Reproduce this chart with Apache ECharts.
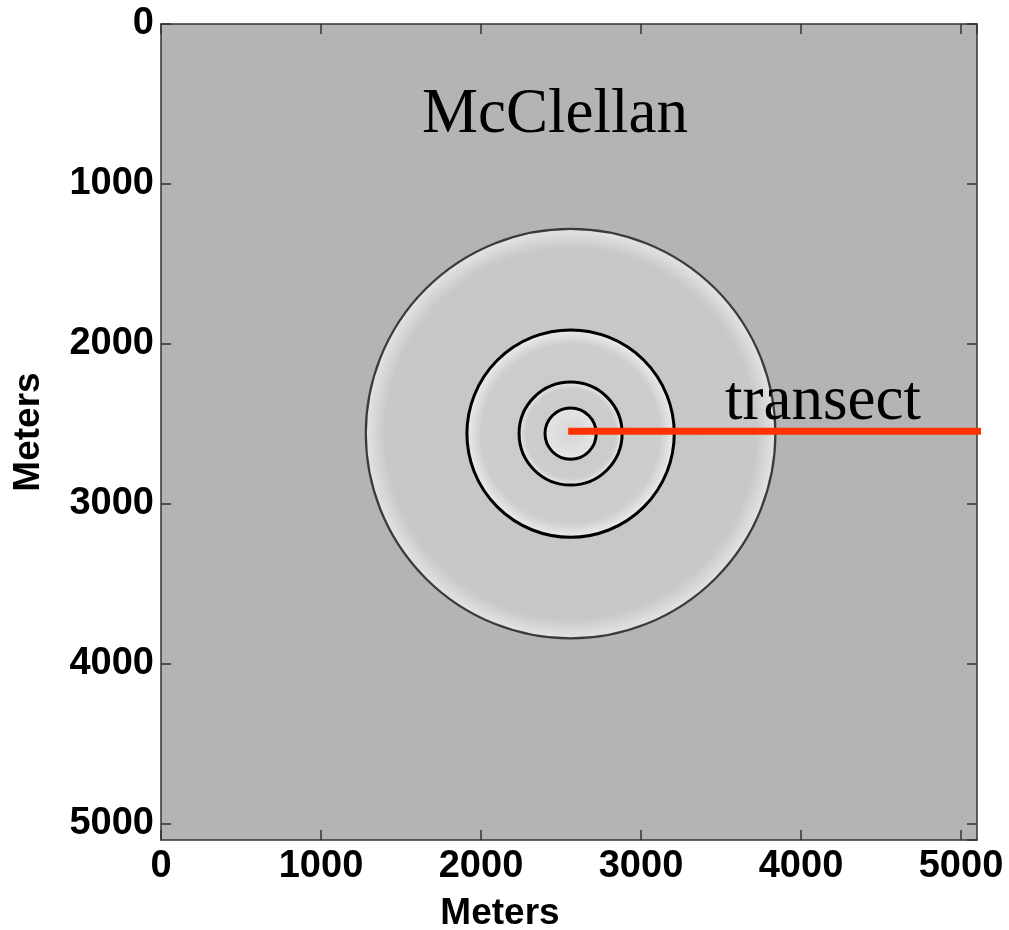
<!DOCTYPE html>
<html>
<head>
<meta charset="utf-8">
<script src="https://cdn.jsdelivr.net/npm/echarts@6/dist/echarts.min.js"></script>
<style>
html,body{margin:0;padding:0;background:#fff;}
#chart{width:1009px;height:930px;}
</style>
</head>
<body>
<div id="chart"></div>
<script>
// ---- data ----
var axisTicks = [0, 1000, 2000, 3000, 4000, 5000];
var axisMax = 5100;
var ringCenter = [2560, 2560];
var ringRadii = [1280, 648, 322, 160];
var transectX = [2545, 5175];
var transectY = [2545, 2545];
var titleText = 'McClellan';
var transectLabel = 'transect';
var axisName = 'Meters';

var chart = echarts.init(document.getElementById('chart'), null, {renderer: 'canvas'});

var ringData = ringRadii.map(function (r, i) { return [ringCenter[0], ringCenter[1], r, i]; });
var transectData = transectX.map(function (x, i) { return [x, transectY[i]]; });

var labelFont = {fontFamily: 'Liberation Sans, Arial, sans-serif', fontWeight: 'bold', fontSize: 38, color: '#000'};
function fmt(v) { return axisTicks.indexOf(v) >= 0 ? String(v) : ''; }

function mkX(pos, show) {
  return {
    type: 'value', position: pos, min: 0, max: axisMax, interval: 1000,
    axisLine: {show: true, onZero: false, lineStyle: {color: '#333', width: 1.5}},
    axisTick: {show: true, inside: true, length: 10, lineStyle: {color: '#333', width: 1.5}},
    axisLabel: show ? Object.assign({show: true, margin: 8, showMaxLabel: false, formatter: fmt}, labelFont) : {show: false},
    splitLine: {show: false},
    name: show ? axisName : '',
    nameLocation: 'middle', nameGap: 55,
    nameTextStyle: {fontFamily: 'Liberation Sans, Arial, sans-serif', fontWeight: 'bold', fontSize: 37, color: '#000', padding: [0, 138, 0, 0]}
  };
}
function mkY(pos, show) {
  return {
    type: 'value', position: pos, inverse: true, min: 0, max: axisMax, interval: 1000,
    axisLine: {show: true, onZero: false, lineStyle: {color: '#333', width: 1.5}},
    axisTick: {show: true, inside: true, length: 10, lineStyle: {color: '#333', width: 1.5}},
    axisLabel: show ? Object.assign({show: true, margin: 7, showMaxLabel: false, formatter: fmt}, labelFont) : {show: false},
    splitLine: {show: false},
    name: show ? axisName : '',
    nameLocation: 'middle', nameGap: 114, nameRotate: 90,
    nameTextStyle: {fontFamily: 'Liberation Sans, Arial, sans-serif', fontWeight: 'bold', fontSize: 37, color: '#000'}
  };
}

var option = {
  backgroundColor: '#fff',
  animation: false,
  grid: {left: 161, top: 24, width: 816, height: 816, show: true, backgroundColor: '#b4b4b4', borderWidth: 0, outerBoundsMode: 'none', containLabel: false},
  xAxis: [mkX('bottom', true), mkX('top', false)],
  yAxis: [mkY('left', true), mkY('right', false)],
  series: [
    {
      type: 'custom',
      xAxisIndex: 0, yAxisIndex: 0,
      data: ringData,
      renderItem: function (params, api) {
        var c = api.coord([api.value(0), api.value(1)]);
        var r = api.size([api.value(2), 0])[0];
        var idx = api.value(3);
        var outer = idx === 0;
        return {
          type: 'circle',
          shape: {cx: c[0], cy: c[1], r: r},
          style: {
            fill: {
              type: 'radial', x: 0.5, y: 0.5, r: 0.5,
              colorStops: outer ? [
                {offset: 0, color: '#c6c6c6'},
                {offset: 0.9, color: '#c8c8c8'},
                {offset: 0.975, color: '#dedede'},
                {offset: 1, color: '#e4e4e4'}
              ] : (idx === 3 ? [
                {offset: 0, color: '#d6d6d6'},
                {offset: 0.8, color: '#e2e2e2'},
                {offset: 1, color: '#f0f0f0'}
              ] : [
                {offset: 0, color: '#c8c8c8'},
                {offset: 0.85, color: '#cdcdcd'},
                {offset: 0.95, color: '#e4e4e4'},
                {offset: 1, color: '#eeeeee'}
              ])
            },
            stroke: outer ? '#3a3a3a' : '#000',
            lineWidth: outer ? 2.2 : 3
          }
        };
      },
      z: 2
    },
    {
      type: 'line',
      xAxisIndex: 0, yAxisIndex: 0,
      data: transectData,
      clip: false,
      symbol: 'none',
      lineStyle: {color: '#ff3300', width: 7, cap: 'butt'},
      z: 5
    }
  ],
  graphic: [
    {
      type: 'text', left: 422, top: 84,
      style: {text: titleText, fontFamily: 'Liberation Serif, Times New Roman, serif', fontSize: 63, fill: '#000'},
      z: 10
    },
    {
      type: 'text', left: 725, top: 371,
      style: {text: transectLabel, fontFamily: 'Liberation Serif, Times New Roman, serif', fontSize: 63, fill: '#000'},
      z: 10
    }
  ]
};
chart.setOption(option);
</script>
</body>
</html>
